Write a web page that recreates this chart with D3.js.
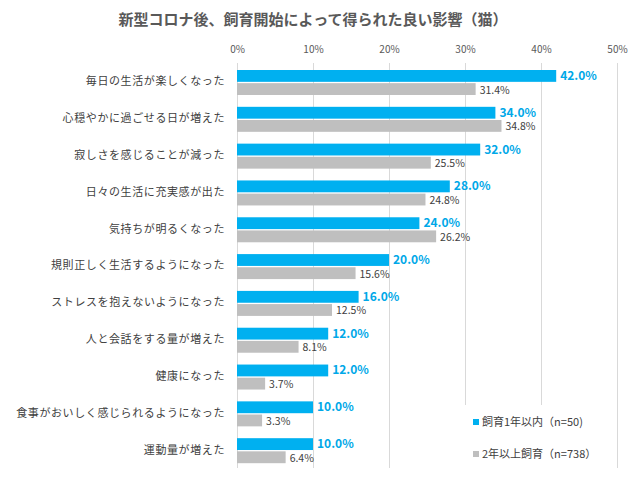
<!DOCTYPE html>
<html><head><meta charset="utf-8">
<script src="https://cdn.jsdelivr.net/npm/d3@7"></script>
<style>body{margin:0;background:#fff;} svg{display:block;}</style>
</head><body>
<script>
const title = "新型コロナ後、飼育開始によって得られた良い影響（猫）";
const categories = [
  "毎日の生活が楽しくなった",
  "心穏やかに過ごせる日が増えた",
  "寂しさを感じることが減った",
  "日々の生活に充実感が出た",
  "気持ちが明るくなった",
  "規則正しく生活するようになった",
  "ストレスを抱えないようになった",
  "人と会話をする量が増えた",
  "健康になった",
  "食事がおいしく感じられるようになった",
  "運動量が増えた"
];
const seriesNames = ["飼育1年以内（n=50)", "2年以上飼育（n=738）"];
const within1yr = [42.0, 34.0, 32.0, 28.0, 24.0, 20.0, 16.0, 12.0, 12.0, 10.0, 10.0];
const over2yr = [31.4, 34.8, 25.5, 24.8, 26.2, 15.6, 12.5, 8.1, 3.7, 3.3, 6.4];
const tickValues = [0, 10, 20, 30, 40, 50];
const colors = ["#00b0f0", "#bfbfbf"];

const W = 634, H = 489;
const svg = d3.select("body").append("svg").attr("width", W).attr("height", H);
const font = "'Noto Sans CJK JP', 'Noto Sans', sans-serif";

const x = d3.scaleLinear().domain([0, 50]).range([237, 617]);
const y = d3.scaleBand().domain(categories).range([63, 468]);
const sub = d3.scaleBand().domain([0, 1]).range([7, 32]).paddingInner(0.1);

svg.append("text").attr("x", 313).attr("y", 25).attr("text-anchor", "middle")
  .attr("font-family", font).attr("font-weight", "bold").attr("font-size", 15)
  .attr("fill", "#595959").text(title);

// gridlines
svg.append("g").selectAll("line").data(tickValues).join("line")
  .attr("x1", d => x(d) + 0.5).attr("x2", d => x(d) + 0.5)
  .attr("y1", 63).attr("y2", 468)
  .attr("stroke", "#d9d9d9").attr("stroke-width", 1);

// top axis labels
const axis = svg.append("g").attr("transform", "translate(0,53)")
  .call(d3.axisTop(x).tickValues(tickValues).tickFormat(d => d + "%").tickSize(0).tickPadding(0));
axis.select(".domain").remove();
axis.selectAll("text").attr("font-family", font).attr("font-size", 10).attr("fill", "#595959");

const rows = svg.append("g").selectAll("g").data(categories).join("g")
  .attr("transform", d => `translate(0,${y(d)})`);

// category labels
rows.append("text").attr("x", 225).attr("y", y.bandwidth() / 2 + 4)
  .attr("text-anchor", "end").attr("font-family", font).attr("font-size", 11)
  .attr("letter-spacing", 0.6).attr("fill", "#404040").text(d => d);

const vals = [within1yr, over2yr];
[0, 1].forEach(s => {
  rows.append("rect")
    .attr("x", x(0)).attr("y", sub(s))
    .attr("width", (d, i) => x(vals[s][i]) - x(0))
    .attr("height", sub.bandwidth())
    .attr("fill", colors[s]);
  rows.append("text")
    .attr("x", (d, i) => x(vals[s][i]) + 4)
    .attr("y", sub(s) + sub.bandwidth() / 2 + (s === 0 ? 4 : 4.5))
    .attr("font-family", font)
    .attr("font-size", s === 0 ? 12 : 10.5)
    .attr("font-weight", s === 0 ? "bold" : "normal")
    .attr("fill", s === 0 ? "#00a8e8" : "#404040")
    .text((d, i) => vals[s][i].toFixed(1) + "%");
});

// legend
const lg = svg.append("g");
lg.append("rect").attr("x", 463).attr("y", 405).attr("width", 152).attr("height", 64).attr("fill", "#fff");
const li = lg.selectAll("g").data(seriesNames).join("g")
  .attr("transform", (d, i) => `translate(473,${422 + i * 32})`);
li.append("rect").attr("x", 0).attr("y", -3).attr("width", 6).attr("height", 6).attr("fill", (d, i) => colors[i]);
li.append("text").attr("x", 9).attr("y", 4).attr("font-family", font).attr("font-size", 11)
  .attr("fill", "#404040").text(d => d);
</script>
</body></html>
